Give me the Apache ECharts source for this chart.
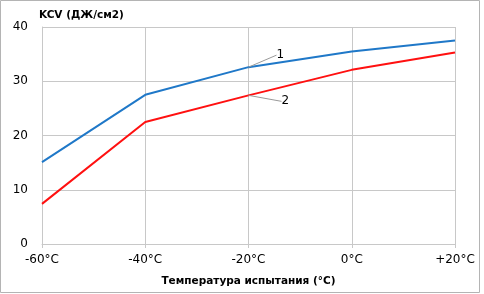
<!DOCTYPE html>
<html>
<head>
<meta charset="utf-8">
<script src="https://cdn.jsdelivr.net/npm/echarts@6/dist/echarts.min.js"></script>
<style>
    html,body{margin:0;padding:0;background:#fff;}
    #main{width:484px;height:294px;}
</style>
</head>
<body>
<div id="main"></div>
<script>
var temps = ['-60°C', '-40°C', '-20°C', '0°C', '+20°C'];
var kcv1 = [15.1, 27.5, 32.6, 35.5, 37.5];
var kcv2 = [7.4, 22.5, 27.4, 32.1, 35.3];
var yTicks = [0, 10, 20, 30, 40];

var font = 'DejaVu Sans';
var chart = echarts.init(document.getElementById('main'));

// номер кривой только у точки -20°C
function withTag(values, tag) {
    return values.map(function (v, i) {
        if (i !== 2) return v;
        return {
            value: v,
            label: {show: true, formatter: tag, color: '#000', fontSize: 12, fontFamily: font}
        };
    });
}

var tagLine = {show: true, lineStyle: {color: '#999', width: 1}};

chart.setOption({
    animation: false,
    title: {
        text: 'KCV (ДЖ/см2)',
        left: 34, top: 5,
        textStyle: {fontSize: 10.5, fontWeight: 'bold', color: '#000', fontFamily: font}
    },
    grid: {left: 42, right: 29, top: 27, bottom: 50},
    xAxis: {
        type: 'category',
        data: temps,
        boundaryGap: false,
        name: 'Температура испытания (°С)',
        nameLocation: 'middle',
        nameGap: 32,
        nameTextStyle: {fontSize: 10.5, fontWeight: 'bold', color: '#000', fontFamily: font},
        axisLine: {lineStyle: {color: '#c8c8c8'}},
        axisTick: {show: true, length: 4, lineStyle: {color: '#c8c8c8'}},
        axisLabel: {color: '#000', fontSize: 12, fontFamily: font, margin: 10},
        splitLine: {show: true, lineStyle: {color: '#c8c8c8'}}
    },
    yAxis: {
        type: 'value',
        min: yTicks[0], max: yTicks[yTicks.length - 1], interval: 10,
        axisLine: {show: true, lineStyle: {color: '#c8c8c8'}},
        axisTick: {show: false},
        axisLabel: {color: '#000', fontSize: 12, fontFamily: font, margin: 14},
        splitLine: {lineStyle: {color: '#c8c8c8'}}
    },
    series: [{
        name: '1',
        type: 'line',
        data: withTag(kcv1, '1'),
        symbol: 'circle',
        symbolSize: 0,
        lineStyle: {color: '#1f78c8', width: 2},
        itemStyle: {color: '#1f78c8'},
        label: {show: false, position: 'right'},
        labelLayout: {dx: 23, dy: -12},
        labelLine: tagLine
    }, {
        name: '2',
        type: 'line',
        data: withTag(kcv2, '2'),
        symbol: 'circle',
        symbolSize: 0,
        lineStyle: {color: '#ff1010', width: 2},
        itemStyle: {color: '#ff1010'},
        label: {show: false, position: 'right'},
        labelLayout: {dx: 28, dy: 6},
        labelLine: tagLine
    }],
    graphic: [{
        type: 'rect',
        shape: {x: 0.5, y: 0.5, width: 479, height: 292},
        style: {fill: 'none', stroke: '#b4b4b4', lineWidth: 1}
    }]
});
</script>
</body>
</html>
